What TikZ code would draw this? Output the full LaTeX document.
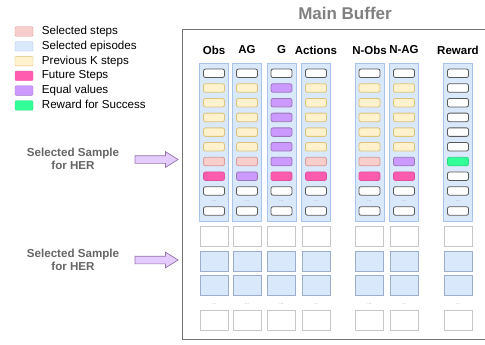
\documentclass[tikz,border=0pt]{standalone}
\usepackage{fontspec}
\setmainfont{Liberation Sans}
\usetikzlibrary{positioning,shapes.arrows}

\definecolor{stepfill}{HTML}{F8CECC}
\definecolor{stepline}{HTML}{D99A98}
\definecolor{epifill}{HTML}{DAE8FC}
\definecolor{epiline}{HTML}{A9C4EB}
\definecolor{prevfill}{HTML}{FFF2CC}
\definecolor{prevline}{HTML}{DCC27A}
\definecolor{futfill}{HTML}{FF5CAF}
\definecolor{futline}{HTML}{E0509C}
\definecolor{eqfill}{HTML}{CC99FF}
\definecolor{eqline}{HTML}{9A77B8}
\definecolor{winfill}{HTML}{33FF99}
\definecolor{winline}{HTML}{2CD980}
\definecolor{herfill}{HTML}{E5CCFF}
\definecolor{herline}{HTML}{9673A6}

\begin{document}
\begin{tikzpicture}[x=1pt, y=-1pt,
    txt/.style={font=\fontsize{11.6}{13.7}\selectfont, inner sep=0pt},
    head/.style={txt, font=\fontsize{11.5}{13.7}\selectfont\bfseries},
    legbox/.style={draw, rounded corners=1pt, minimum width=18pt, minimum height=9.5pt, inner sep=0pt},
    legtext/.style={txt, anchor=west, text height=8.4pt, text depth=2.4pt},
    strip/.style={draw=epiline, fill=epifill, minimum width=29pt, minimum height=158pt, inner sep=0pt},
    cell/.style={draw=black!65, fill=white, rounded corners=2pt, line width=0.8pt,
                 minimum width=21pt, minimum height=8.5pt, inner sep=0pt},
    plain/.style={cell},
    prevk/.style={cell, draw=prevline, fill=prevfill},
    selstep/.style={cell, draw=stepline, fill=stepfill},
    future/.style={cell, draw=futline, fill=futfill},
    equal/.style={cell, draw=eqline, fill=eqfill},
    success/.style={cell, draw=winline, fill=winfill},
    bigcell/.style={draw=black!22, fill=white, line width=1pt,
                    minimum width=28pt, minimum height=20pt, inner sep=0pt},
    episode/.style={bigcell, draw=epiline!85!black!90, fill=epifill},
    dots/.style={font=\fontsize{5}{5}\selectfont, text=black!45, inner sep=0pt},
    herarrow/.style={single arrow, draw=herline, fill=herfill, line width=0.7pt,
                     minimum height=43pt, inner sep=3.5pt, single arrow head extend=4pt,
                     single arrow tip angle=64},
    herlabel/.style={txt, font=\fontsize{11.6}{13.7}\selectfont\bfseries, text=black!60, align=center}
]

    \useasboundingbox (0,0) rectangle (485,345);

    % Legend
    \node[legbox, draw=stepline, fill=stepfill] (leg-1) at (24,31.5) {};
    \node[legbox, draw=epiline, fill=epifill] (leg-2) at (24,46.3) {};
    \node[legbox, draw=prevline, fill=prevfill] (leg-3) at (24,61.1) {};
    \node[legbox, draw=futfill, fill=futfill] (leg-4) at (24,75.9) {};
    \node[legbox, draw=eqfill!80!black, fill=eqfill] (leg-5) at (24,90.7) {};
    \node[legbox, draw=winfill!85!black, fill=winfill] (leg-6) at (24,105.5) {};
    \node[legtext, right=8.5pt of leg-1] (leg-1-text) {Selected steps};
    \node[legtext, right=8.5pt of leg-2] (leg-2-text) {Selected episodes};
    \node[legtext, right=8.5pt of leg-3] (leg-3-text) {Previous K steps};
    \node[legtext, right=8.5pt of leg-4] (leg-4-text) {Future Steps};
    \node[legtext, right=8.5pt of leg-5] (leg-5-text) {Equal values};
    \node[legtext, right=8.5pt of leg-6] (leg-6-text) {Reward for Success};

    % Main buffer frame and title
    \node[head, font=\fontsize{17}{20}\selectfont\bfseries, text=black!50] (title) at (345,13) {Main Buffer};
    \draw[black!55, line width=1pt] (485,30) -- (182,30) -- (182,339) -- (485,339);

    % Columns: strip, header, sampled episode cells
    \foreach \name/\x/\label/\kinds in {
        obs/214/Obs/{plain,prevk,prevk,prevk,prevk,prevk,selstep,future,plain},
        ag/247/AG/{plain,prevk,prevk,prevk,prevk,prevk,selstep,equal,plain},
        g/281.5/G/{plain,equal,equal,equal,equal,equal,equal,future,plain},
        act/316/Actions/{plain,prevk,prevk,prevk,prevk,prevk,selstep,future,plain},
        nobs/369.5/N-Obs/{plain,prevk,prevk,prevk,prevk,prevk,selstep,future,plain},
        nag/404/N-AG/{plain,prevk,prevk,prevk,prevk,prevk,equal,future,plain},
        rew/458/Reward/{plain,plain,plain,plain,plain,plain,success,plain,plain}} {
        \node[head] (\name-head) at (\x,50) {\label};
        \node[strip] (\name-col) at (\x,142) {};
        \foreach \kind [count=\r, evaluate=\r as \y using 73.3+(\r-1)*14.7] in \kinds
            \node[\kind] (\name-\r) at (\x,\y) {};
        \node[dots] (\name-dots) at (\x,201.5) {...};
        \node[plain] (\name-10) at (\x,211) {};

        % other episodes below
        \node[bigcell] (\name-e1) at (\x,236.7) {};
        \node[episode] (\name-e2) at (\x,261.3) {};
        \node[episode] (\name-e3) at (\x,285.9) {};
        \node[dots] (\name-edots) at (\x,304.3) {...};
        \node[bigcell] (\name-e4) at (\x,320) {};
    }

    % Samples picked for HER
    \node[herarrow] (her-1) at (153.5,159.5) {};
    \node[herarrow] (her-2) at (153.5,260) {};
    \node[herlabel] (her-1-text) at (73,159) {Selected Sample\\for HER};
    \node[herlabel] (her-2-text) at (73,260) {Selected Sample\\for HER};

\end{tikzpicture}
\end{document}
